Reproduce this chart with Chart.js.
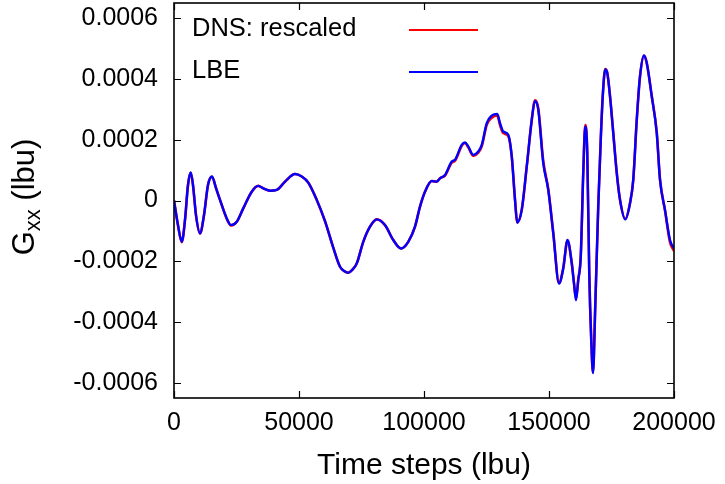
<!DOCTYPE html>
<html>
<head>
<meta charset="utf-8">
<script src="https://cdn.jsdelivr.net/npm/chart.js@4.4.0/dist/chart.umd.min.js"></script>
<style>
  html, body { margin: 0; padding: 0; background: #ffffff; }
  #wrap { width: 725px; height: 484px; }
</style>
</head>
<body>
<div id="wrap"><canvas id="c" width="725" height="484"></canvas></div>
<script>
// ---- data ----
const timeSteps = [0,1600,3100,4400,5600,6700,7600,8800,10400,12000,13600,15200,16800,18400,21100,22800,25100,27700,31100,33700,35700,38400,41100,44400,48400,51100,53700,57100,60400,63700,66400,68400,69700,71200,73100,75700,78400,81100,84400,87700,90800,93700,96400,98400,100400,103100,105100,106400,108400,111100,112400,115100,116400,117700,119700,121700,123100,125100,127100,129300,130400,131700,133700,135100,136400,137300,139100,141100,143100,144400,145700,147700,149700,151700,154000,155700,157400,159100,160000,160800,161700,162700,163700,164500,165300,166100,166900,167600,168500,169700,170700,171500,172500,173300,174400,175700,177100,178400,180500,182400,183700,185100,186400,188000,189100,191100,193100,194400,196400,198400,200000];

const lbeValues = [0,-0.000081,-0.000136,-0.000064,0.000051,0.000092,0.000051,-0.000048,-0.000108,-0.000048,0.000051,0.000079,0.000041,0.000002,-0.000059,-0.000081,-0.00007,-0.000026,0.000029,0.000048,0.00004,0.000032,0.000035,0.000062,0.000087,0.000079,0.000059,0.000002,-0.000068,-0.000155,-0.000218,-0.000234,-0.000238,-0.000229,-0.000207,-0.000136,-0.000086,-0.000062,-0.000081,-0.00013,-0.000158,-0.000136,-0.000086,-0.00002,0.000029,0.000064,0.000062,0.000073,0.000084,0.000128,0.000134,0.000183,0.000191,0.000178,0.00015,0.000161,0.000183,0.000255,0.000279,0.000285,0.000255,0.000227,0.000216,0.000145,0.000002,-0.000073,-0.000031,0.000112,0.000266,0.000328,0.000299,0.000123,0.000035,-0.000108,-0.000273,-0.000224,-0.00013,-0.000207,-0.000273,-0.000328,-0.000262,-0.000185,0.00009,0.000244,0.000156,-0.00024,-0.00046,-0.000568,-0.00035,-0.00002,0.0002,0.000343,0.000431,0.00042,0.000343,0.000222,0.00009,0.000002,-0.000062,-0.000009,0.000068,0.000266,0.000409,0.000477,0.000453,0.000343,0.000222,0.000068,-0.000031,-0.00013,-0.000158];

const dnsValues = [0,-0.000082,-0.000137,-0.000064,0.000051,0.000091,0.000050,-0.000049,-0.000109,-0.000048,0.000051,0.000078,0.000041,0.000002,-0.00006,-0.000082,-0.00007,-0.000026,0.000029,0.000048,0.00004,0.000032,0.000035,0.000062,0.000087,0.000079,0.000059,0.000002,-0.000068,-0.000155,-0.000218,-0.000234,-0.000238,-0.000229,-0.000207,-0.000136,-0.000086,-0.000062,-0.000081,-0.00013,-0.000158,-0.000136,-0.000086,-0.00002,0.000029,0.000064,0.000062,0.000073,0.000082,0.000125,0.000131,0.00018,0.000189,0.000175,0.000147,0.000157,0.000178,0.000249,0.000272,0.00028,0.000249,0.000222,0.000212,0.000145,0.000004,-0.000072,-0.00003,0.000112,0.000264,0.00033,0.000304,0.00013,0.000038,-0.000105,-0.000272,-0.000222,-0.000132,-0.000205,-0.000272,-0.000322,-0.00026,-0.000183,0.00009,0.000248,0.00016,-0.000236,-0.000458,-0.000566,-0.000348,-0.000018,0.000202,0.000345,0.000433,0.000421,0.000345,0.000224,0.000092,0.000003,-0.000061,-0.000009,0.000068,0.000264,0.000407,0.000476,0.000452,0.000344,0.000224,0.00007,-0.000033,-0.000137,-0.000166];

const seriesNames = ['DNS: rescaled', 'LBE'];
const seriesColors = ['#ff0000', '#0000ff'];

const xTicks = [0, 50000, 100000, 150000, 200000];
const xTickLabels = ['0', '50000', '100000', '150000', '200000'];
const yTicks = [-0.0006, -0.0004, -0.0002, 0, 0.0002, 0.0004, 0.0006];
const yTickLabels = ['-0.0006', '-0.0004', '-0.0002', '0', '0.0002', '0.0004', '0.0006'];

const xTitle = 'Time steps (lbu)';
const yTitleMain = 'G';
const yTitleSub = 'xx';
const yTitleRest = ' (lbu)';

// ---- build ----
const FONT = '"Liberation Sans", Arial, Helvetica, sans-serif';
const toPoints = vals => timeSteps.map((t, i) => ({ x: t, y: vals[i] }));

const gnuplotDecor = {
  id: 'gnuplotDecor',
  afterDraw(chart) {
    const ctx = chart.ctx;
    const a = chart.chartArea;
    const xs = chart.scales.x, ys = chart.scales.y;
    const tl = 7;
    ctx.save();
    ctx.strokeStyle = '#000000';
    ctx.lineWidth = 1.2;
    // inward ticks on all four sides
    ctx.beginPath();
    xTicks.forEach(v => {
      const px = Math.round(xs.getPixelForValue(v)) + 0.5;
      ctx.moveTo(px, a.bottom); ctx.lineTo(px, a.bottom - tl);
      ctx.moveTo(px, a.top); ctx.lineTo(px, a.top + tl);
    });
    yTicks.forEach(v => {
      const py = Math.round(ys.getPixelForValue(v)) + 0.5;
      ctx.moveTo(a.left, py); ctx.lineTo(a.left + tl, py);
      ctx.moveTo(a.right, py); ctx.lineTo(a.right - tl, py);
    });
    ctx.stroke();
    // frame
    ctx.lineWidth = 1.6;
    ctx.strokeRect(a.left, a.top, a.right - a.left, a.bottom - a.top);

    // legend (inside, top-left, gnuplot style: text then line sample)
    const legY = [29, 71];
    chart.data.datasets.forEach((ds, i) => {
      ctx.fillStyle = '#000000';
      ctx.font = '25.5px ' + FONT;
      ctx.textAlign = 'left';
      ctx.textBaseline = 'middle';
      ctx.fillText(ds.label, 192, legY[i]);
      ctx.strokeStyle = ds.borderColor;
      ctx.lineWidth = 2.2;
      ctx.beginPath();
      ctx.moveTo(409, legY[i] + 1);
      ctx.lineTo(478, legY[i] + 1);
      ctx.stroke();
    });

    // y-axis title with subscript
    ctx.fillStyle = '#000000';
    ctx.translate(34, 197);
    ctx.rotate(-Math.PI / 2);
    ctx.textBaseline = 'alphabetic';
    ctx.textAlign = 'left';
    ctx.font = '31px ' + FONT;
    const wMain = ctx.measureText(yTitleMain).width;
    const wRest = ctx.measureText(yTitleRest).width;
    ctx.font = '22px ' + FONT;
    const wSub = ctx.measureText(yTitleSub).width;
    const total = wMain + wSub + wRest;
    let x0 = -total / 2;
    ctx.font = '31px ' + FONT;
    ctx.fillText(yTitleMain, x0, 0);
    ctx.font = '22px ' + FONT;
    ctx.fillText(yTitleSub, x0 + wMain, 6);
    ctx.font = '31px ' + FONT;
    ctx.fillText(yTitleRest, x0 + wMain + wSub, 0);
    ctx.restore();
  }
};

new Chart(document.getElementById('c'), {
  type: 'line',
  data: {
    datasets: [
      { label: seriesNames[0], data: toPoints(dnsValues), borderColor: seriesColors[0], borderWidth: 2.6, pointRadius: 0, cubicInterpolationMode: 'monotone', fill: false, order: 1 },
      { label: seriesNames[1], data: toPoints(lbeValues), borderColor: seriesColors[1], borderWidth: 2.4, pointRadius: 0, cubicInterpolationMode: 'monotone', fill: false, order: 0 }
    ]
  },
  options: {
    responsive: false,
    devicePixelRatio: 1,
    animation: false,
    events: [],
    layout: { padding: { left: 0, right: 51, top: 3, bottom: 0 } },
    plugins: { legend: { display: false }, tooltip: { enabled: false }, title: { display: false } },
    scales: {
      x: {
        type: 'linear', min: 0, max: 200000,
        grid: { display: false, drawTicks: false },
        border: { display: false },
        afterBuildTicks: s => { s.ticks = xTicks.map(v => ({ value: v })); },
        afterFit: s => { s.height = 86; s.paddingLeft = 0; s.paddingRight = 0; },
        ticks: {
          color: '#000000', font: { family: FONT, size: 25 }, padding: 10, maxRotation: 0, autoSkip: false,
          callback: (v, i) => xTickLabels[i]
        },
        title: { display: true, text: xTitle, color: '#000000', font: { family: FONT, size: 30 }, padding: { top: 0, bottom: 0 } }
      },
      y: {
        type: 'linear', min: -0.00065, max: 0.00065,
        grid: { display: false, drawTicks: false },
        border: { display: false },
        afterBuildTicks: s => { s.ticks = yTicks.map(v => ({ value: v })); },
        afterFit: s => { s.width = 174; s.paddingTop = 0; s.paddingBottom = 0; },
        ticks: {
          color: '#000000', font: { family: FONT, size: 25 }, padding: 16, autoSkip: false,
          callback: (v, i) => yTickLabels[i]
        }
      }
    }
  },
  plugins: [gnuplotDecor]
});
</script>
</body>
</html>
